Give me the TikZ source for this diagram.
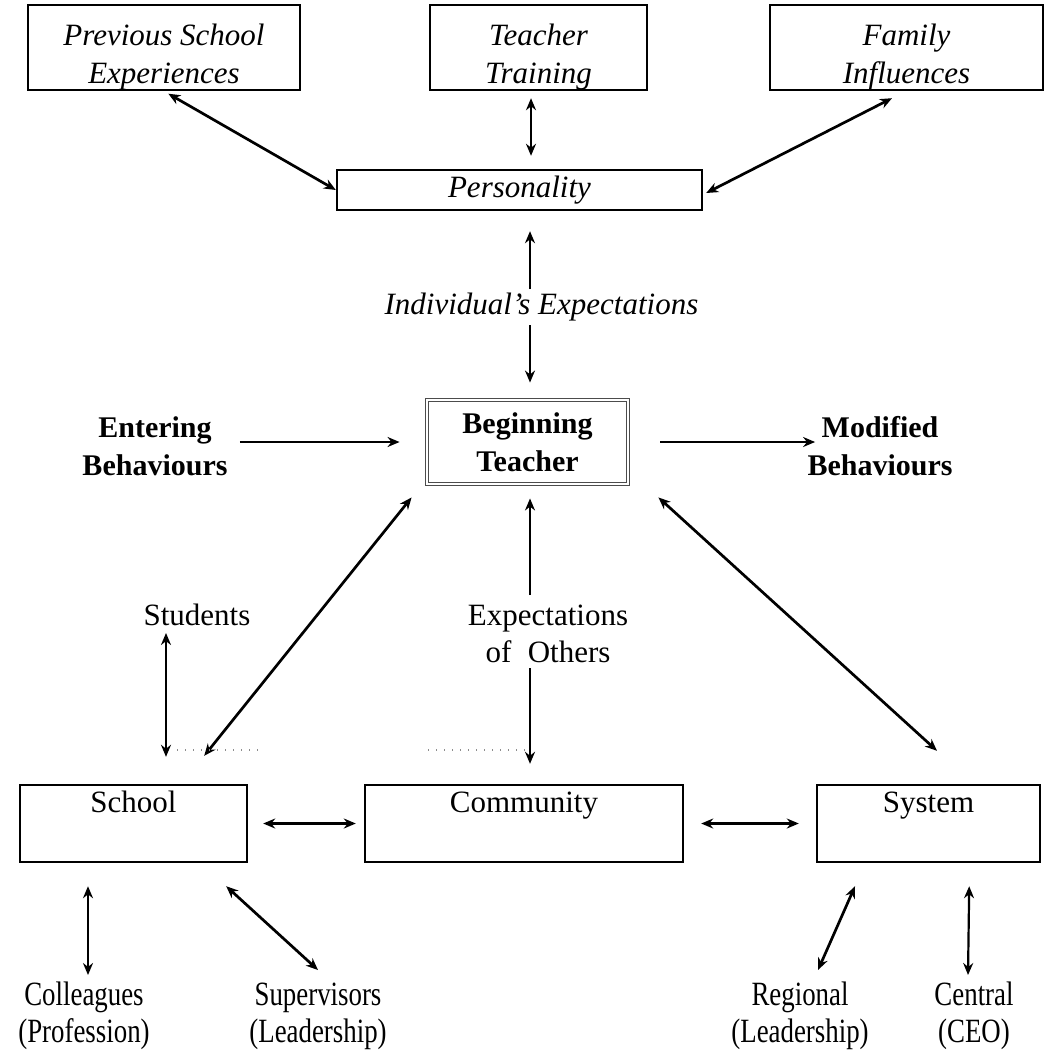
\documentclass[tikz,border=0pt]{standalone}
\usepackage{fontspec}
\setmainfont{Liberation Serif}
\newfontfamily\narrowserif{Liberation Serif}[FakeStretch=0.79]
\usetikzlibrary{arrows.meta,calc}
% strut that lowers the two-line labels inside the top boxes
\newcommand{\toppad}{\rule{0pt}{20pt}}
\begin{document}
\begin{tikzpicture}[x=0.5pt,y=-0.5pt,
  box/.style={draw, line width=1.2pt, inner sep=0pt, align=center},
  ital/.style={font=\fontsize{15.5}{19}\selectfont\itshape, align=center, inner sep=0pt},
  reg/.style={font=\fontsize{15.5}{18.5}\selectfont, align=center, inner sep=0pt},
  narrow/.style={font=\fontsize{17}{18.5}\selectfont\narrowserif, align=center, inner sep=0pt},
  bld/.style={font=\fontsize{15}{19}\selectfont\bfseries, align=center, inner sep=0pt},
  topbox/.style={box, reg, text height=13.5pt, text depth=25pt},
  tip/.tip={Stealth[length=6pt,width=5pt]},
  arr/.style={line width=1.1pt, -tip},
  link/.style={line width=1.1pt, tip-tip},
  heavy/.style={link, line width=1.35pt},
  faint/.style={draw=black!45, line width=0.6pt, dash pattern=on 0.6pt off 3.4pt}]
\useasboundingbox (0,0) rectangle (1052,1050);

% top row of influences
\node[box, ital, minimum width=136pt, minimum height=42.5pt] (prev) at (164,47.5) {\toppad Previous School\\Experiences};
\node[box, ital, minimum width=108.5pt, minimum height=42.5pt] (tt) at (538.5,47.5) {\toppad Teacher\\Training};
\node[box, ital, minimum width=136.5pt, minimum height=42.5pt] (fam) at (906.5,47.5) {\toppad Family\\Influences};
\node[box, ital, minimum width=182.5pt, minimum height=20pt] (pers) at (519.5,190) {Personality};
\node[ital] (indexp) at (541.5,307) {Individual's Expectations};

% central row
\node[draw=black!70, line width=0.45pt, double=white, double distance=1pt, bld,
      minimum width=100.5pt, minimum height=42pt] (bt) at (527.5,442) {Beginning\\Teacher};
\node[bld] (entering) at (155,446) {Entering\\Behaviours};
\node[bld] (modified) at (880,446) {Modified\\Behaviours};

% contexts
\node[reg] (students) at (197,615) {Students};
\node[reg] (expoth) at (548,634) {Expectations\\of\; Others};
\node[topbox, minimum width=113.5pt] (school) at (133.5,823.5) {School};
\node[topbox, minimum width=159pt] (community) at (524,823.5) {Community};
\node[topbox, minimum width=111.5pt] (system) at (928.5,823.5) {System};

% bottom row
\node[narrow] (colleagues) at (84,1016) {Colleagues\\(Profession)};
\node[narrow] (supervisors) at (318,1016) {Supervisors\\(Leadership)};
\node[narrow] (regional) at (800,1016) {Regional\\(Leadership)};
\node[narrow] (central) at (974,1016) {Central\\(CEO)};

% connectors around the personality
\draw[heavy, shorten <=2.5pt] (prev.south) -- (pers.west);
\draw[link] ([shift={(-7.5,7)}]tt.south) -- ([shift={(11.5,-13)}]pers.north);
\draw[heavy] ([shift={(-14.5,7)}]fam.south) -- ([shift={(3,3)}]pers.east);
\draw[arr] ([shift={(-11.5,-18)}]indexp.center) -- ([shift={(10.5,20)}]pers.south);
\draw[arr] ([shift={(-11.5,18)}]indexp.center) -- ([shift={(2.5,-17)}]bt.north);

% behaviours
\draw[arr, shorten <=6pt, shorten >=13.5pt] (entering.east |- bt.west) -- (bt.west);
\draw[arr, shorten <=16pt, shorten >=-4pt] (bt.east) -- (modified.west |- bt.east);

% expectations of others
\draw[heavy] ([shift={(-15,13)}]bt.south west) -- ([shift={(-44,-28)}]school.north east);
\draw[arr] ([shift={(-18,-39)}]expoth.center) -- ([shift={(2.5,14)}]bt.south);
\draw[arr] ([shift={(-18,34)}]expoth.center) -- ([shift={(6,-20)}]community.north);
\draw[heavy] ([shift={(30,13)}]bt.south east) -- ([shift={(8.5,-33)}]system.north);
\draw[link] ([shift={(-31,18)}]students.center) -- ([shift={(32.5,-27)}]school.north);
\draw[faint] (177,750) -- (263,750);
\draw[faint] (428,750) -- (527,750);

% links between the contexts
\draw[heavy, shorten <=7.5pt, shorten >=4pt] (school.east) -- (community.west);
\draw[heavy, shorten <=8.5pt, shorten >=8.5pt] (community.east) -- (system.west);

% school and system links
\draw[link] ([shift={(-45.5,23)}]school.south) -- ([shift={(4,-41)}]colleagues.center);
\draw[heavy] ([shift={(-22,23)}]school.south east) -- ([shift={(0,-46)}]supervisors.center);
\draw[heavy] ([shift={(-73.5,23)}]system.south) -- ([shift={(18,-46)}]regional.center);
\draw[link] ([shift={(-72,23)}]system.south east) -- ([shift={(-6,-41)}]central.center);
\end{tikzpicture}
\end{document}
